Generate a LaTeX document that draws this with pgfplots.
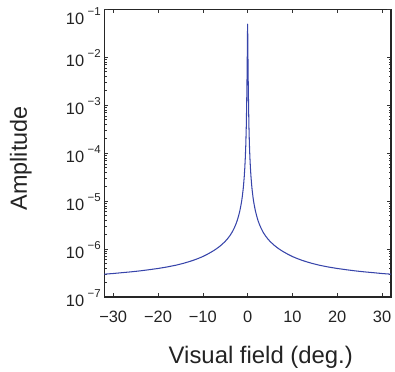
\documentclass[border=0pt]{standalone}
\usepackage{pgfplots}
\pgfplotsset{compat=1.18}
\usepackage{pgfplotstable}
\usepackage{fontspec}
\setmainfont{Liberation Sans}
\usetikzlibrary{calc}
\definecolor{curve}{RGB}{55,68,170}
\definecolor{lbl}{RGB}{35,35,35}
\newcommand{\ex}[1]{10\hspace{3.5bp}\raisebox{9.5bp}{\fontsize{11.5}{12}\selectfont −#1}}
\pgfplotstableread{
x y
-32 3.0e-7
-30 3.1e-7
-28 3.23e-7
-26 3.36e-7
-24 3.52e-7
-22 3.72e-7
-20 3.95e-7
-18 4.24e-7
-16 4.62e-7
-14.4 5.03e-7
-13 5.5e-7
-12 5.9e-7
-11 6.4e-7
-10 7.0e-7
-9 7.8e-7
-8 8.8e-7
-7.5 9.4e-7
-7 1.01e-6
-6.5 1.09e-6
-6 1.19e-6
-5.5 1.31e-6
-5 1.45e-6
-4.45 1.66e-6
-4 1.88e-6
-3.5 2.22e-6
-3 2.73e-6
-2.6 3.34e-6
-2.3 4.0e-6
-2 5.0e-6
-1.75 6.2e-6
-1.5 8.1e-6
-1.33 1.0e-5
-1.2 1.22e-5
-1 1.75e-5
-0.9 2.19e-5
-0.75 3.27e-5
-0.62 5.07e-5
-0.5 8.6e-5
-0.4 1.53e-4
-0.3 3.5e-4
-0.25 6.3e-4
-0.2 1.2e-3
-0.15 2.5e-3
-0.1 6e-3
-0.05 1.8e-2
-0.02 3.5e-2
0 4.9e-2
0.02 3.5e-2
0.05 1.8e-2
0.1 6e-3
0.15 2.5e-3
0.2 1.2e-3
0.25 6.3e-4
0.3 3.5e-4
0.4 1.53e-4
0.5 8.6e-5
0.62 5.07e-5
0.75 3.27e-5
0.9 2.19e-5
1 1.75e-5
1.2 1.22e-5
1.33 1.0e-5
1.5 8.1e-6
1.75 6.2e-6
2 5.0e-6
2.3 4.0e-6
2.6 3.34e-6
3 2.73e-6
3.5 2.22e-6
4 1.88e-6
4.45 1.66e-6
5 1.45e-6
5.5 1.31e-6
6 1.19e-6
6.5 1.09e-6
7 1.01e-6
7.5 9.4e-7
8 8.8e-7
9 7.8e-7
10 7.0e-7
11 6.4e-7
12 5.9e-7
13 5.5e-7
14.4 5.03e-7
16 4.62e-7
18 4.24e-7
20 3.95e-7
22 3.72e-7
24 3.52e-7
26 3.36e-7
28 3.23e-7
30 3.1e-7
32 3.0e-7
}\curvedata
\begin{document}
\begin{tikzpicture}
\begin{axis}[
  scale only axis, width=287bp, height=288bp,
  xmin=-32, xmax=32, ymode=log, ymin=1e-7, ymax=1e-1,
  xtick={-30,-20,-10,0,10,20,30},
  xticklabels={−30,−20,−10,0,10,20,30},
  ytick={1e-7,1e-6,1e-5,1e-4,1e-3,1e-2},
  yticklabels={\ex{7},\ex{6},\ex{5},\ex{4},\ex{3},\ex{2}},
  extra y ticks={1e-1},
  extra y tick labels={\ex{1}},
  extra y tick style={yticklabel style={yshift=-6bp}},
  tick align=inside, major tick length=4bp, minor tick length=2.5bp,
  axis line style={line width=1.2bp, black!85},
  tick style={line width=0.6bp, black!80},
  ticklabel style={font=\fontsize{16.5}{18}\selectfont, text=lbl},
  xticklabel style={anchor=north, yshift=-10bp},
  yticklabel style={anchor=east, yshift=-1bp},
  xlabel={Visual field (deg.)}, ylabel={Amplitude},
  xlabel style={font=\fontsize{24}{26}\selectfont, text=lbl, at={(axis description cs:0.546,-0.230)}, anchor=base},
  ylabel style={font=\fontsize{23.5}{26}\selectfont, text=lbl, at={(axis description cs:-0.291,0.482)}, anchor=center},
]
\addplot[curve, line width=1.05bp, line join=round] table[x=x, y=y] {\curvedata};
\end{axis}
\pgfresetboundingbox
\path ($(current axis.south west)+(-104.3bp,-74.7bp)$) rectangle ($(current axis.north east)+(4bp,9.3bp)$);
\end{tikzpicture}
\end{document}
